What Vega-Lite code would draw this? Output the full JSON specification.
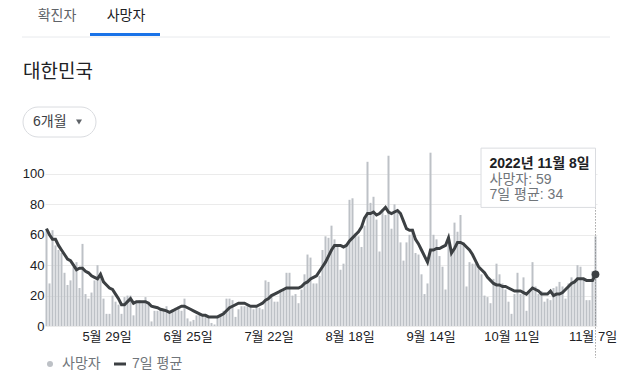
{
  "$schema": "https://vega.github.io/schema/vega-lite/v6.json",
  "width": 552,
  "height": 180,
  "autosize": {"type": "none"},
  "padding": {"left": 45, "top": 146, "right": 20, "bottom": 65},
  "background": "white",
  "config": {
    "view": {"stroke": null},
    "font": "'Liberation Sans', 'Noto Sans CJK KR', sans-serif",
    "text": {"font": "'Liberation Sans', 'Noto Sans CJK KR', sans-serif"},
    "axisY": {"labelOverlap": false, "tickCount": 6}
  },
  "datasets": {
    "covid": [
      {"date":"2022-05-09","deaths":64,"avg":64},{"date":"2022-05-10","deaths":28,"avg":60},{"date":"2022-05-11","deaths":63,"avg":57},{"date":"2022-05-12","deaths":53,"avg":57},{"date":"2022-05-13","deaths":50,"avg":53},{"date":"2022-05-14","deaths":48,"avg":50},{"date":"2022-05-15","deaths":35,"avg":47},{"date":"2022-05-16","deaths":27,"avg":44},{"date":"2022-05-17","deaths":30,"avg":43},{"date":"2022-05-18","deaths":39,"avg":40},{"date":"2022-05-19","deaths":42,"avg":37},{"date":"2022-05-20","deaths":25,"avg":38},{"date":"2022-05-21","deaths":54,"avg":38},{"date":"2022-05-22","deaths":21,"avg":36},{"date":"2022-05-23","deaths":18,"avg":35},{"date":"2022-05-24","deaths":22,"avg":33},{"date":"2022-05-25","deaths":30,"avg":32},{"date":"2022-05-26","deaths":40,"avg":31},{"date":"2022-05-27","deaths":35,"avg":34},{"date":"2022-05-28","deaths":18,"avg":29},{"date":"2022-05-29","deaths":8,"avg":27},{"date":"2022-05-30","deaths":8,"avg":25},{"date":"2022-05-31","deaths":20,"avg":24},
      {"date":"2022-06-01","deaths":16,"avg":21},{"date":"2022-06-02","deaths":14,"avg":18},{"date":"2022-06-03","deaths":8,"avg":14},{"date":"2022-06-04","deaths":19,"avg":14},{"date":"2022-06-05","deaths":20,"avg":16},{"date":"2022-06-06","deaths":20,"avg":18},{"date":"2022-06-07","deaths":7,"avg":15},{"date":"2022-06-08","deaths":16,"avg":16},{"date":"2022-06-09","deaths":17,"avg":16},{"date":"2022-06-10","deaths":15,"avg":16},{"date":"2022-06-11","deaths":19,"avg":16},{"date":"2022-06-12","deaths":16,"avg":15},{"date":"2022-06-13","deaths":3,"avg":13},{"date":"2022-06-14","deaths":10,"avg":12.5},{"date":"2022-06-15","deaths":10,"avg":12},{"date":"2022-06-16","deaths":11,"avg":11},{"date":"2022-06-17","deaths":10,"avg":10.5},{"date":"2022-06-18","deaths":13,"avg":10},{"date":"2022-06-19","deaths":9,"avg":9},{"date":"2022-06-20","deaths":11,"avg":10},{"date":"2022-06-21","deaths":12,"avg":11},{"date":"2022-06-22","deaths":13,"avg":12},{"date":"2022-06-23","deaths":10,"avg":13},{"date":"2022-06-24","deaths":18,"avg":13},{"date":"2022-06-25","deaths":5,"avg":12},{"date":"2022-06-26","deaths":3,"avg":11},{"date":"2022-06-27","deaths":4,"avg":10},{"date":"2022-06-28","deaths":7,"avg":9},{"date":"2022-06-29","deaths":8,"avg":8},{"date":"2022-06-30","deaths":8,"avg":7},
      {"date":"2022-07-01","deaths":7,"avg":7},{"date":"2022-07-02","deaths":5,"avg":6},{"date":"2022-07-03","deaths":2,"avg":6},{"date":"2022-07-04","deaths":1,"avg":6},{"date":"2022-07-05","deaths":6,"avg":6},{"date":"2022-07-06","deaths":8,"avg":7},{"date":"2022-07-07","deaths":10,"avg":8},{"date":"2022-07-08","deaths":18,"avg":10},{"date":"2022-07-09","deaths":18,"avg":12},{"date":"2022-07-10","deaths":17,"avg":13},{"date":"2022-07-11","deaths":6,"avg":14},{"date":"2022-07-12","deaths":11,"avg":15},{"date":"2022-07-13","deaths":13,"avg":15},{"date":"2022-07-14","deaths":13,"avg":15},{"date":"2022-07-15","deaths":13,"avg":14},{"date":"2022-07-16","deaths":12,"avg":13},{"date":"2022-07-17","deaths":11,"avg":13},{"date":"2022-07-18","deaths":13,"avg":13},{"date":"2022-07-19","deaths":12,"avg":14},{"date":"2022-07-20","deaths":11,"avg":15},{"date":"2022-07-21","deaths":30,"avg":17},{"date":"2022-07-22","deaths":29,"avg":18},{"date":"2022-07-23","deaths":19,"avg":20},{"date":"2022-07-24","deaths":16,"avg":21},{"date":"2022-07-25","deaths":16,"avg":22},{"date":"2022-07-26","deaths":24,"avg":23},{"date":"2022-07-27","deaths":24,"avg":24},{"date":"2022-07-28","deaths":35,"avg":25},{"date":"2022-07-29","deaths":35,"avg":25},{"date":"2022-07-30","deaths":20,"avg":25},{"date":"2022-07-31","deaths":21,"avg":25},
      {"date":"2022-08-01","deaths":15,"avg":25},{"date":"2022-08-02","deaths":24,"avg":26},{"date":"2022-08-03","deaths":34,"avg":28},{"date":"2022-08-04","deaths":47,"avg":29},{"date":"2022-08-05","deaths":45,"avg":31},{"date":"2022-08-06","deaths":28,"avg":32},{"date":"2022-08-07","deaths":28,"avg":33},{"date":"2022-08-08","deaths":33,"avg":36},{"date":"2022-08-09","deaths":50,"avg":39},{"date":"2022-08-10","deaths":59,"avg":42},{"date":"2022-08-11","deaths":58,"avg":46},{"date":"2022-08-12","deaths":66,"avg":50},{"date":"2022-08-13","deaths":57,"avg":53},{"date":"2022-08-14","deaths":52,"avg":53},{"date":"2022-08-15","deaths":37,"avg":53},{"date":"2022-08-16","deaths":41,"avg":52},{"date":"2022-08-17","deaths":54,"avg":53},{"date":"2022-08-18","deaths":83,"avg":56},{"date":"2022-08-19","deaths":84,"avg":58},{"date":"2022-08-20","deaths":61,"avg":60},{"date":"2022-08-21","deaths":59,"avg":62},{"date":"2022-08-22","deaths":52,"avg":65},{"date":"2022-08-23","deaths":66,"avg":71},{"date":"2022-08-24","deaths":108,"avg":74},{"date":"2022-08-25","deaths":81,"avg":74},{"date":"2022-08-26","deaths":85,"avg":75},{"date":"2022-08-27","deaths":70,"avg":73},{"date":"2022-08-28","deaths":49,"avg":74},{"date":"2022-08-29","deaths":77,"avg":76},{"date":"2022-08-30","deaths":73,"avg":78},{"date":"2022-08-31","deaths":112,"avg":75},
      {"date":"2022-09-01","deaths":64,"avg":74},{"date":"2022-09-02","deaths":80,"avg":75},{"date":"2022-09-03","deaths":76,"avg":76},{"date":"2022-09-04","deaths":55,"avg":74},{"date":"2022-09-05","deaths":43,"avg":69},{"date":"2022-09-06","deaths":55,"avg":64},{"date":"2022-09-07","deaths":60,"avg":63},{"date":"2022-09-08","deaths":64,"avg":63},{"date":"2022-09-09","deaths":48,"avg":57},{"date":"2022-09-10","deaths":47,"avg":54},{"date":"2022-09-11","deaths":34,"avg":50},{"date":"2022-09-12","deaths":21,"avg":46},{"date":"2022-09-13","deaths":28,"avg":42},{"date":"2022-09-14","deaths":114,"avg":50},{"date":"2022-09-15","deaths":60,"avg":50},{"date":"2022-09-16","deaths":57,"avg":51},{"date":"2022-09-17","deaths":46,"avg":51},{"date":"2022-09-18","deaths":39,"avg":52},{"date":"2022-09-19","deaths":24,"avg":53},{"date":"2022-09-20","deaths":59,"avg":58},{"date":"2022-09-21","deaths":48,"avg":48},{"date":"2022-09-22","deaths":68,"avg":51},{"date":"2022-09-23","deaths":62,"avg":55},{"date":"2022-09-24","deaths":73,"avg":55},{"date":"2022-09-25","deaths":55,"avg":54},{"date":"2022-09-26","deaths":26,"avg":52},{"date":"2022-09-27","deaths":42,"avg":50},{"date":"2022-09-28","deaths":41,"avg":47},{"date":"2022-09-29","deaths":41,"avg":43},{"date":"2022-09-30","deaths":38,"avg":39},
      {"date":"2022-10-01","deaths":34,"avg":37},{"date":"2022-10-02","deaths":20,"avg":35},{"date":"2022-10-03","deaths":19,"avg":32},{"date":"2022-10-04","deaths":15,"avg":30},{"date":"2022-10-05","deaths":31,"avg":28},{"date":"2022-10-06","deaths":41,"avg":27},{"date":"2022-10-07","deaths":34,"avg":27},{"date":"2022-10-08","deaths":28,"avg":26},{"date":"2022-10-09","deaths":24,"avg":26},{"date":"2022-10-10","deaths":16,"avg":25},{"date":"2022-10-11","deaths":8,"avg":24},{"date":"2022-10-12","deaths":21,"avg":23},{"date":"2022-10-13","deaths":35,"avg":23},{"date":"2022-10-14","deaths":21,"avg":23},{"date":"2022-10-15","deaths":32,"avg":22},{"date":"2022-10-16","deaths":10,"avg":21},{"date":"2022-10-17","deaths":23,"avg":23},{"date":"2022-10-18","deaths":42,"avg":25},{"date":"2022-10-19","deaths":26,"avg":24},{"date":"2022-10-20","deaths":21,"avg":23},{"date":"2022-10-21","deaths":23,"avg":21},{"date":"2022-10-22","deaths":16,"avg":21},{"date":"2022-10-23","deaths":18,"avg":21},{"date":"2022-10-24","deaths":17,"avg":23},{"date":"2022-10-25","deaths":25,"avg":20},{"date":"2022-10-26","deaths":26,"avg":21},{"date":"2022-10-27","deaths":29,"avg":21},{"date":"2022-10-28","deaths":26,"avg":22},{"date":"2022-10-29","deaths":18,"avg":24},{"date":"2022-10-30","deaths":28,"avg":26},{"date":"2022-10-31","deaths":32,"avg":28},
      {"date":"2022-11-01","deaths":29,"avg":29},{"date":"2022-11-02","deaths":40,"avg":31},{"date":"2022-11-03","deaths":39,"avg":31},{"date":"2022-11-04","deaths":31,"avg":31},{"date":"2022-11-05","deaths":17,"avg":30},{"date":"2022-11-06","deaths":17,"avg":30},{"date":"2022-11-07","deaths":36,"avg":30},{"date":"2022-11-08","deaths":59,"avg":34}
    ]
  },
  "layer": [
    {
      "data": {"values": [{}]},
      "mark": {"type": "rule", "stroke": "#e8eaed", "strokeWidth": 1},
      "encoding": {"x": {"value": -23}, "x2": {"value": 565}, "y": {"value": -109}}
    },
    {
      "data": {"values": [{}]},
      "mark": {"type": "rect", "fill": "#1a73e8"},
      "encoding": {"x": {"value": 45}, "x2": {"value": 115}, "y": {"value": -113}, "y2": {"value": -110}}
    },
    {
      "data": {"values": [{}]},
      "mark": {"type": "text", "text": "확진자", "fontSize": 14, "color": "#5f6368", "align": "center", "baseline": "middle"},
      "encoding": {"x": {"value": 12}, "y": {"value": -130}}
    },
    {
      "data": {"values": [{}]},
      "mark": {"type": "text", "text": "사망자", "fontSize": 14, "color": "#202124", "align": "center", "baseline": "middle"},
      "encoding": {"x": {"value": 81}, "y": {"value": -130}}
    },
    {
      "data": {"values": [{}]},
      "mark": {"type": "text", "text": "대한민국", "fontSize": 19, "color": "#202124", "align": "left", "baseline": "middle"},
      "encoding": {"x": {"value": -22}, "y": {"value": -74}}
    },
    {
      "data": {"values": [{}]},
      "mark": {"type": "rect", "fill": "white", "stroke": "#dadce0", "strokeWidth": 1, "cornerRadius": 15},
      "encoding": {"x": {"value": -22}, "x2": {"value": 51}, "y": {"value": -39}, "y2": {"value": -9}}
    },
    {
      "data": {"values": [{}]},
      "mark": {"type": "text", "text": "6개월", "fontSize": 14, "color": "#3c4043", "align": "left", "baseline": "middle"},
      "encoding": {"x": {"value": -12}, "y": {"value": -24}}
    },
    {
      "data": {"values": [{}]},
      "mark": {"type": "point", "shape": "triangle-down", "filled": true, "size": 36, "color": "#5f6368", "opacity": 1},
      "encoding": {"x": {"value": 34}, "y": {"value": -24}}
    },
    {
      "data": {"name": "covid"},
      "mark": {"type": "bar", "width": 2},
      "encoding": {
        "x": {
          "field": "date", "type": "temporal",
          "scale": {"type": "utc", "padding": 0, "domain": [{"year": 2022, "month": 5, "date": 8, "hours": 12, "utc": true}, {"year": 2022, "month": 11, "date": 8, "hours": 12, "utc": true}]},
          "axis": {
            "title": null, "domain": false, "ticks": false, "grid": false,
            "values": [
              {"year": 2022, "month": 5, "date": 29, "utc": true},
              {"year": 2022, "month": 6, "date": 25, "utc": true},
              {"year": 2022, "month": 7, "date": 22, "utc": true},
              {"year": 2022, "month": 8, "date": 18, "utc": true},
              {"year": 2022, "month": 9, "date": 14, "utc": true},
              {"year": 2022, "month": 10, "date": 11, "utc": true},
              {"year": 2022, "month": 11, "date": 7, "utc": true}
            ],
            "labelExpr": "(utcmonth(datum.value) + 1) + '월 ' + utcdate(datum.value) + '일'",
            "labelFontSize": 13, "labelColor": "#202124", "labelPadding": 4,
            "labelFlush": false, "labelOverlap": false, "labelBound": false
          }
        },
        "y": {
          "field": "deaths", "type": "quantitative",
          "scale": {"domain": [0, 118.4], "nice": false},
          "axis": {
            "title": null, "domain": false, "ticks": false, "tickSize": 0,
            "values": [0, 20, 40, 60, 80, 100], "tickCount": 6,
            "labelOverlap": false, "labelBound": false, "labelFlush": false,
            "gridColor": "#ebebeb", "labelFontSize": 13, "labelColor": "#202124", "labelPadding": 1
          }
        },
        "color": {
          "datum": "사망자",
          "scale": {"domain": ["사망자", "7일 평균"], "range": ["#bdc1c6", "#3c4043"]},
          "legend": {
            "title": null, "orient": "none", "legendX": -2, "legendY": 211, "direction": "horizontal",
            "labelFontSize": 14, "labelColor": "#70757a", "symbolType": "circle", "symbolSize": 36,
            "columnPadding": 7, "labelOffset": 5,
            "encode": {
              "symbols": {
                "update": {
                  "shape": {"signal": "datum.value === '사망자' ? 'circle' : 'stroke'"},
                  "size": {"signal": "datum.value === '사망자' ? 36 : 144"},
                  "strokeWidth": {"signal": "datum.value === '사망자' ? 0 : 3"},
                  "stroke": {"signal": "datum.value === '사망자' ? '#bdc1c6' : '#3c4043'"},
                  "fill": {"signal": "datum.value === '사망자' ? '#bdc1c6' : '#3c4043'"}
                }
              }
            }
          }
        }
      }
    },
    {
      "data": {"values": [{}]},
      "mark": {"type": "rule", "stroke": "#777777", "strokeWidth": 1, "strokeDash": [1, 2]},
      "encoding": {
        "x": {"datum": {"year": 2022, "month": 11, "date": 8, "utc": true}, "type": "temporal"},
        "y": {"datum": 78},
        "y2": {"datum": -21}
      }
    },
    {
      "data": {"name": "covid"},
      "mark": {"type": "line", "strokeWidth": 3},
      "encoding": {
        "x": {"field": "date", "type": "temporal"},
        "y": {
          "field": "avg", "type": "quantitative",
          "axis": {
            "title": null, "domain": false, "ticks": false, "tickSize": 0,
            "values": [0, 20, 40, 60, 80, 100], "tickCount": 6,
            "labelOverlap": false, "labelBound": false, "labelFlush": false,
            "gridColor": "#ebebeb", "labelFontSize": 13, "labelColor": "#202124", "labelPadding": 1
          }
        },
        "color": {"datum": "7일 평균"}
      }
    },
    {
      "data": {"values": [{}]},
      "mark": {"type": "point", "filled": true, "size": 60, "color": "#3c4043", "opacity": 1},
      "encoding": {
        "x": {"datum": {"year": 2022, "month": 11, "date": 8, "utc": true}, "type": "temporal"},
        "y": {"datum": 34}
      }
    },
    {
      "data": {"values": [{}]},
      "mark": {"type": "rect", "fill": "white", "stroke": "#dadce0", "strokeWidth": 1},
      "encoding": {
        "x": {"datum": {"year": 2022, "month": 9, "date": 30, "hours": 20, "utc": true}, "type": "temporal"},
        "x2": {"datum": {"year": 2022, "month": 11, "date": 8, "utc": true}},
        "y": {"datum": 117},
        "y2": {"datum": 78}
      }
    },
    {
      "data": {"values": [{}]},
      "mark": {"type": "text", "text": "2022년 11월 8일", "fontSize": 14, "fontWeight": "bold", "color": "#202124", "align": "left", "baseline": "middle", "dx": -106},
      "encoding": {
        "x": {"datum": {"year": 2022, "month": 11, "date": 8, "utc": true}, "type": "temporal"},
        "y": {"datum": 106.3}
      }
    },
    {
      "data": {"values": [{}]},
      "mark": {"type": "text", "text": "사망자: 59", "fontSize": 14, "color": "#70757a", "align": "left", "baseline": "middle", "dx": -106},
      "encoding": {
        "x": {"datum": {"year": 2022, "month": 11, "date": 8, "utc": true}, "type": "temporal"},
        "y": {"datum": 96.1}
      }
    },
    {
      "data": {"values": [{}]},
      "mark": {"type": "text", "text": "7일 평균: 34", "fontSize": 14, "color": "#70757a", "align": "left", "baseline": "middle", "dx": -106},
      "encoding": {
        "x": {"datum": {"year": 2022, "month": 11, "date": 8, "utc": true}, "type": "temporal"},
        "y": {"datum": 85.9}
      }
    }
  ]
}
